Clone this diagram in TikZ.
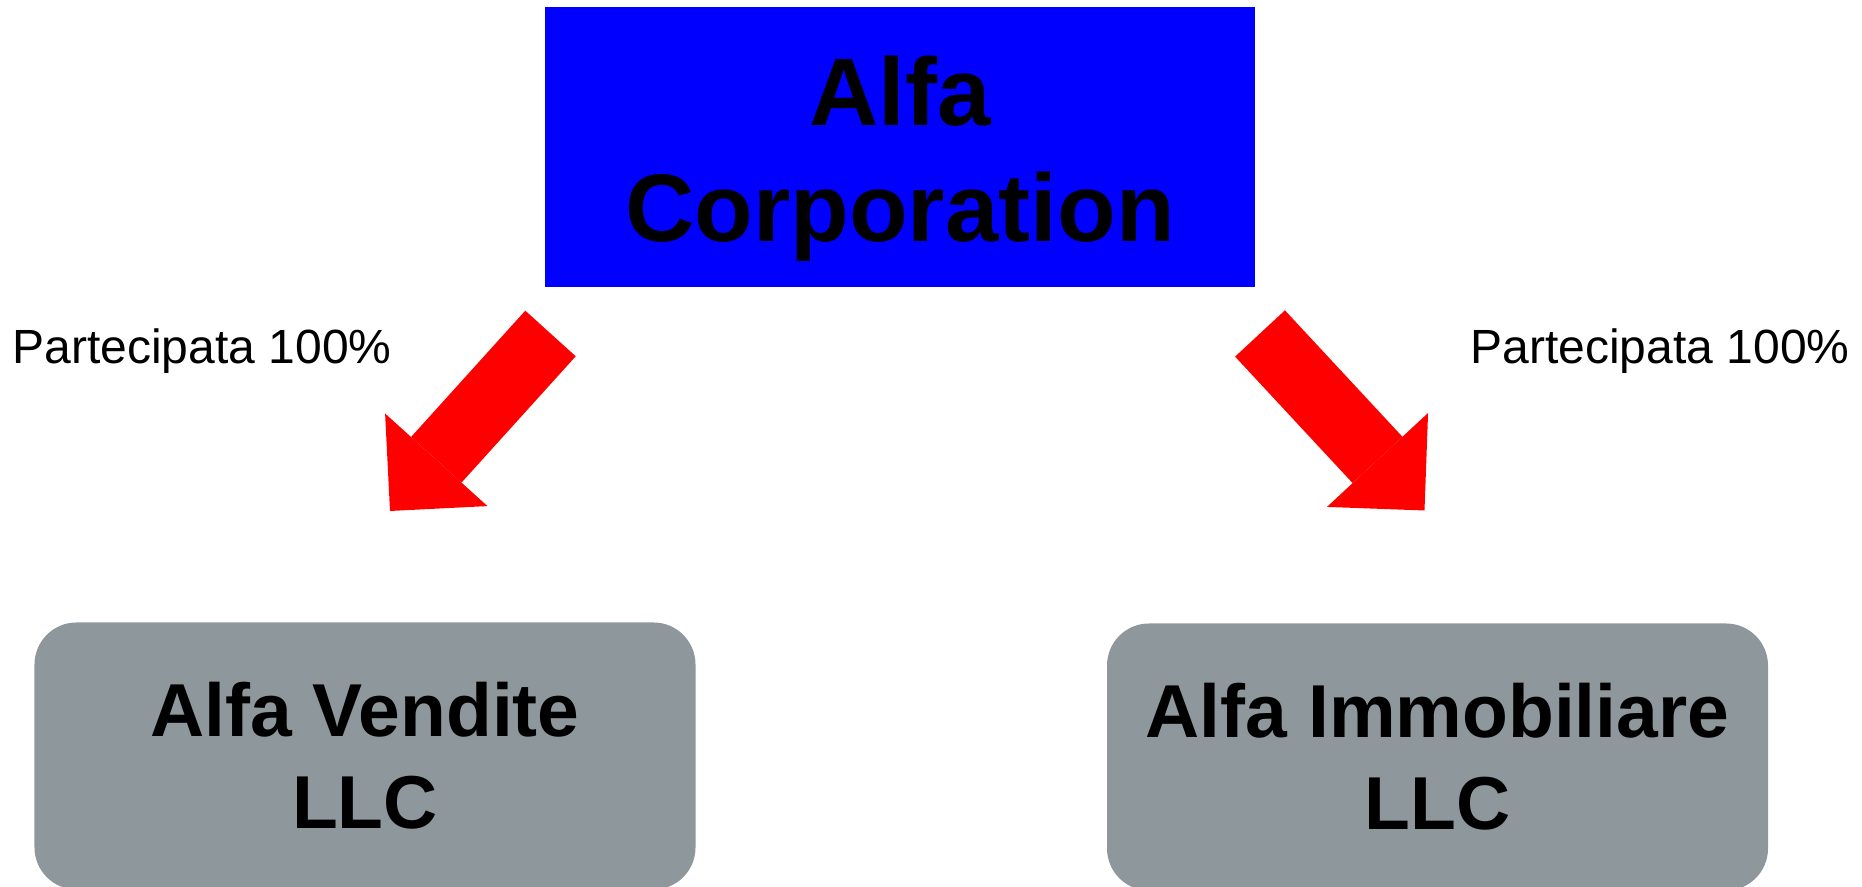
\documentclass[tikz,border=0pt]{standalone}
\usepackage{fontspec}
\setmainfont{Liberation Sans}
\usetikzlibrary{arrows.meta,positioning}
\definecolor{boxgray}{RGB}{142,151,155}

\begin{document}
\begin{tikzpicture}[lbl/.style={inner sep=0pt, anchor=base, font=\fontsize{13.66pt}{16pt}\selectfont}]
\tikzstyle{corpbox}=[rectangle, fill=blue, inner sep=0pt, minimum width=7.10cm, minimum height=2.80cm, align=center, font=\fontsize{27.32pt}{33.01pt}\selectfont\bfseries]
\tikzstyle{subbox}=[rectangle, rounded corners=0.42cm, fill=boxgray, inner sep=0pt, minimum width=6.61cm, minimum height=2.67cm, align=center, font=\fontsize{21.34pt}{26.18pt}\selectfont\bfseries]
\tikzstyle{redarrow}=[red, line width=0.68cm, -{Triangle[length=0.69cm, width=1.38cm, line width=0pt]}]
\useasboundingbox (0,0) rectangle (18.62,8.87);
\node[corpbox] (corp) at (9.00,7.40){\rule{0pt}{0.92cm}Alfa\\Corporation};
\node[subbox] (vendite) at (3.65,1.31){Alfa Vendite\\LLC};
\node[subbox] (immob) at (14.375,1.30){Alfa Immobiliare\\LLC};
\coordinate (s1) at (5.505,5.535);
\coordinate (t1) at (3.90,3.76);
\coordinate (s2) at (12.60,5.535);
\coordinate (t2) at (14.245,3.765);
\foreach \i in {1,2}{\draw[redarrow] (s\i) -- (t\i);}
\node[lbl] (quota1) at (2.02,5.23){Partecipata 100\%};
\node[lbl] (quota2) at (16.60,5.23){Partecipata 100\%};
\end{tikzpicture}
\end{document}
